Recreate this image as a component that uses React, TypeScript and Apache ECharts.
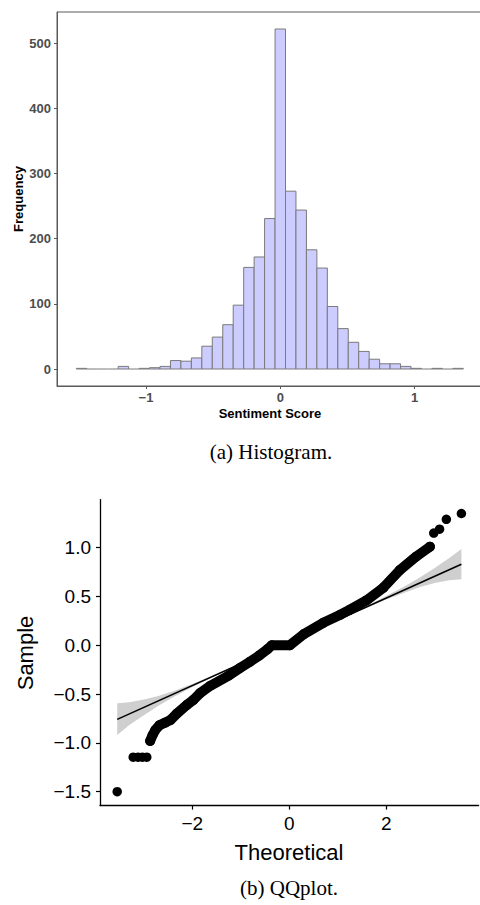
import React, { useEffect, useRef } from "react";
import * as echarts from "echarts";

// ---------- Histogram data ----------
const histBinFirstEdge = -1.519;
const histBinWidth = 0.0779;
const histCounts = [
  1, 0, 0, 0, 4, 0, 1, 2, 4, 13, 12, 17, 35, 49, 68, 98, 156, 172, 231,
  522, 273, 244, 183, 155, 96, 62, 41, 27, 15, 8, 8, 4, 1, 0, 1, 0, 1,
];
const histXTicks = [-1, 0, 1];
const histYTicks = [0, 100, 200, 300, 400, 500];

// ---------- QQ plot data ----------
const qqBodyT = [
  -2.87, -2.82, -2.76, -2.68, -2.55, -2.45, -2.32, -2.11, -1.98, -1.84, -1.63,
  -1.25, -1.01, -0.81, -0.62, -0.45, -0.36, 0.01, 0.3, 0.7, 1.04, 1.25, 1.59,
  1.94, 2.28, 2.62, 2.9,
];
const qqBodyS = [
  -0.98, -0.92, -0.865, -0.82, -0.79, -0.765, -0.7, -0.61, -0.56, -0.49, -0.415,
  -0.31, -0.23, -0.168, -0.105, -0.04, 0.0, 0.0, 0.115, 0.23, 0.31, 0.365, 0.46,
  0.59, 0.77, 0.91, 1.01,
];
const qqTailT = [-3.55, -3.22, -3.12, -3.03, -2.94, 2.98, 3.1, 3.24, 3.55];
const qqTailS = [-1.5, -1.147, -1.147, -1.147, -1.147, 1.15, 1.19, 1.29, 1.35];
const qqLineT = [-3.55, 3.55];
const qqLineS = [-0.759, 0.831];
const qqBandT = [-3.55, -3.3, -3.0, -2.7, -2.4, -2.0, -1.6, 0, 1.6, 2.0, 2.4, 2.7, 3.0, 3.3, 3.55];
const qqBandUpper = [-0.594, -0.583, -0.556, -0.519, -0.472, -0.397, -0.314, 0.041, 0.402, 0.504, 0.609, 0.696, 0.793, 0.895, 0.987];
const qqBandLower = [-0.919, -0.818, -0.716, -0.619, -0.532, -0.427, -0.33, 0.031, 0.386, 0.469, 0.544, 0.596, 0.638, 0.665, 0.676];
const qqXTicks = [-2, 0, 2];
const qqYTicks = [-1.5, -1, -0.5, 0, 0.5, 1];

const SANS = "'Liberation Sans', Arial, Helvetica, sans-serif";
const SERIF = "'Liberation Serif', 'Times New Roman', serif";

const minus = (v: number, d = 0) =>
  (v < 0 ? "\u2212" : "") + Math.abs(v).toFixed(d);

export default function App() {
  const ref = useRef<HTMLDivElement>(null);
  useEffect(() => {
    if (!ref.current) return;
    const chart = echarts.init(ref.current, undefined, { renderer: "svg" });

    const histData = histCounts.map((c, i) => [
      histBinFirstEdge + i * histBinWidth,
      histBinFirstEdge + (i + 1) * histBinWidth,
      c,
    ]);
    const bandData = qqBandT.map((t, i) => [t, qqBandLower[i], qqBandUpper[i]]);

    const option: any = {
      animation: false,
      backgroundColor: "#ffffff",
      grid: [
        {
          left: 57,
          top: 12,
          width: 426,
          height: 374,
          show: true,
          borderColor: "#5a5a5a",
          borderWidth: 1,
          backgroundColor: "transparent",
          outerBoundsMode: "none",
          containLabel: false,
        },
        {
          left: 100,
          top: 499.6,
          width: 378.6,
          height: 306,
          outerBoundsMode: "none",
          containLabel: false,
        },
      ],
      xAxis: [
        {
          gridIndex: 0,
          type: "value",
          min: -1.663,
          max: 1.51,
          splitLine: { show: false },
          axisLine: { show: true, onZero: false, lineStyle: { color: "#5a5a5a", width: 1 } },
          axisTick: {
            show: true,
            length: 3,
            customValues: histXTicks,
            lineStyle: { color: "#5a5a5a" },
          },
          axisLabel: {
            customValues: histXTicks,
            formatter: (v: number) => minus(v),
            color: "#4d4d4d",
            fontWeight: "bold",
            fontSize: 13,
            fontFamily: SANS,
            margin: 5,
          },
        },
        {
          gridIndex: 1,
          type: "value",
          min: -3.905,
          max: 3.905,
          splitLine: { show: false },
          axisLine: { show: true, onZero: false, lineStyle: { color: "#000", width: 1.3 } },
          axisTick: {
            show: true,
            length: 4,
            customValues: qqXTicks,
            lineStyle: { color: "#000", width: 1.2 },
          },
          axisLabel: {
            customValues: qqXTicks,
            formatter: (v: number) => minus(v),
            color: "#000",
            fontSize: 19,
            fontFamily: SANS,
            margin: 8,
          },
        },
      ],
      yAxis: [
        {
          gridIndex: 0,
          type: "value",
          min: -26.1,
          max: 548.1,
          splitLine: { show: false },
          axisLine: { show: true, onZero: false, lineStyle: { color: "#5a5a5a", width: 1 } },
          axisTick: {
            show: true,
            length: 3,
            customValues: histYTicks,
            lineStyle: { color: "#5a5a5a" },
          },
          axisLabel: {
            customValues: histYTicks,
            formatter: (v: number) => minus(v),
            color: "#4d4d4d",
            fontWeight: "bold",
            fontSize: 13,
            fontFamily: SANS,
            margin: 6,
          },
        },
        {
          gridIndex: 1,
          type: "value",
          min: -1.6425,
          max: 1.4925,
          splitLine: { show: false },
          axisLine: { show: true, onZero: false, lineStyle: { color: "#000", width: 1.3 } },
          axisTick: {
            show: true,
            length: 4,
            customValues: qqYTicks,
            lineStyle: { color: "#000", width: 1.2 },
          },
          axisLabel: {
            customValues: qqYTicks,
            formatter: (v: number) => minus(v, 1),
            color: "#000",
            fontSize: 19,
            fontFamily: SANS,
            margin: 9,
          },
        },
      ],
      series: [
        {
          type: "custom",
          xAxisIndex: 0,
          yAxisIndex: 0,
          data: histData,
          encode: { x: [0, 1], y: 2 },
          renderItem: (params: any, api: any) => {
            const x0 = api.value(0);
            const x1 = api.value(1);
            const c = api.value(2);
            const p0 = api.coord([x0, c]);
            const p1 = api.coord([x1, 0]);
            if (c === 0) {
              return {
                type: "line",
                shape: { x1: p0[0], y1: p1[1], x2: p1[0], y2: p1[1] },
                style: { stroke: "#7a7a7a", lineWidth: 1 },
              };
            }
            return {
              type: "rect",
              shape: {
                x: p0[0],
                y: p0[1],
                width: p1[0] - p0[0],
                height: p1[1] - p0[1],
              },
              style: { fill: "#ccccff", stroke: "#7a7a7a", lineWidth: 1 },
            };
          },
        },
        {
          type: "custom",
          xAxisIndex: 1,
          yAxisIndex: 1,
          data: bandData,
          encode: { x: 0, y: [1, 2] },
          renderItem: (params: any, api: any) => {
            if (params.dataIndex !== 0) return null;
            const pts: number[][] = [];
            for (let i = 0; i < bandData.length; i++)
              pts.push(api.coord([bandData[i][0], bandData[i][2]]));
            for (let i = bandData.length - 1; i >= 0; i--)
              pts.push(api.coord([bandData[i][0], bandData[i][1]]));
            return {
              type: "polygon",
              shape: { points: pts },
              style: { fill: "#cfcfcf", stroke: "none" },
            };
          },
        },
        {
          type: "line",
          xAxisIndex: 1,
          yAxisIndex: 1,
          data: qqLineT.map((t, i) => [t, qqLineS[i]]),
          showSymbol: false,
          lineStyle: { color: "#000", width: 1.6 },
          z: 3,
        },
        {
          type: "line",
          xAxisIndex: 1,
          yAxisIndex: 1,
          data: qqBodyT.map((t, i) => [t, qqBodyS[i]]),
          symbol: "circle",
          symbolSize: 10,
          showSymbol: true,
          itemStyle: { color: "#000" },
          lineStyle: { color: "#000", width: 10, cap: "round", join: "round" },
          z: 4,
        },
        {
          type: "scatter",
          xAxisIndex: 1,
          yAxisIndex: 1,
          data: qqTailT.map((t, i) => [t, qqTailS[i]]),
          symbolSize: 9.5,
          itemStyle: { color: "#000", opacity: 1 },
          z: 4,
        },
      ],
      graphic: [
        {
          type: "text",
          x: 18,
          y: 199,
          rotation: Math.PI / 2,
          style: {
            text: "Frequency",
            font: `bold 13px ${SANS}`,
            fill: "#000",
            align: "center",
            verticalAlign: "middle",
          },
        },
        {
          type: "text",
          x: 270,
          y: 413,
          style: {
            text: "Sentiment Score",
            font: `bold 13px ${SANS}`,
            fill: "#000",
            align: "center",
            verticalAlign: "middle",
          },
        },
        {
          type: "text",
          x: 271,
          y: 452,
          style: {
            text: "(a) Histogram.",
            font: `21px ${SERIF}`,
            fill: "#000",
            align: "center",
            verticalAlign: "middle",
          },
        },
        {
          type: "text",
          x: 25,
          y: 653,
          rotation: Math.PI / 2,
          style: {
            text: "Sample",
            font: `22px ${SANS}`,
            fill: "#000",
            align: "center",
            verticalAlign: "middle",
          },
        },
        {
          type: "text",
          x: 289,
          y: 852,
          style: {
            text: "Theoretical",
            font: `22px ${SANS}`,
            fill: "#000",
            align: "center",
            verticalAlign: "middle",
          },
        },
        {
          type: "text",
          x: 289,
          y: 888,
          style: {
            text: "(b) QQplot.",
            font: `21px ${SERIF}`,
            fill: "#000",
            align: "center",
            verticalAlign: "middle",
          },
        },
      ],
    };
    chart.setOption(option);
    return () => chart.dispose();
  }, []);
  return (
    <div
      ref={ref}
      style={{ position: "absolute", left: 0, top: 0, width: 480, height: 905 }}
    />
  );
}
